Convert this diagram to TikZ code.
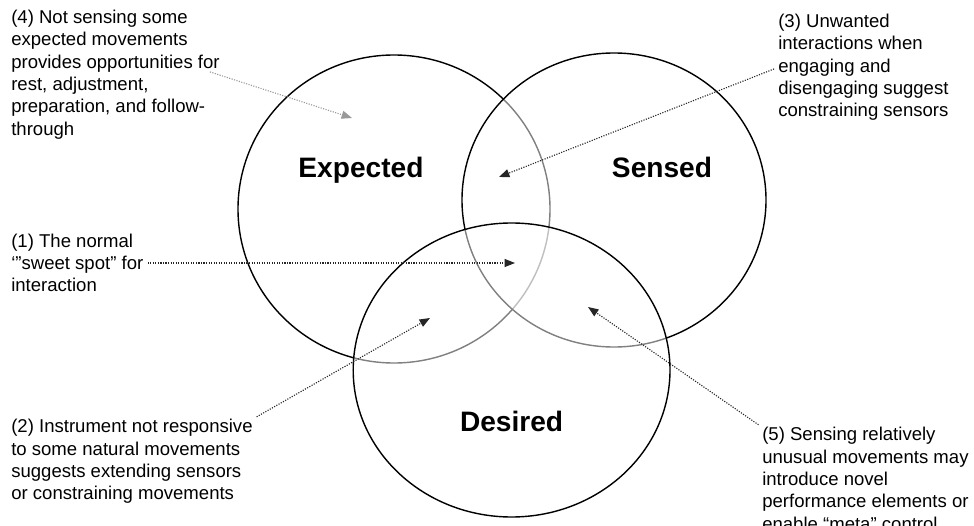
\documentclass[tikz,border=0pt]{standalone}
\usepackage{fontspec}
\setmainfont{Liberation Sans}
\usetikzlibrary{arrows.meta,positioning,shapes.geometric}

\begin{document}
\begin{tikzpicture}[
    venn/.style={ellipse, draw=black, line width=1pt, inner sep=0pt},
    veil/.style={fill=white, fill opacity=0.5},
    heading/.style={font=\fontsize{20}{24}\selectfont\bfseries, anchor=base},
    note/.style={align=left, inner sep=0pt, anchor=west, font=\fontsize{13.2}{15.9}\selectfont},
    pointer/.style={-{Triangle[length=0.26cm,width=0.2cm]}, densely dotted, line width=0.8pt, black!85, shorten <=3pt},
    faint/.style={pointer, black!40}
]
\useasboundingbox (0,0) rectangle (24.35,13.125);

% the three sets
\node[venn, minimum width=7.8cm, minimum height=7.7cm] (expected) at (9.85,7.9) {};
\node[venn, veil, minimum width=7.6cm, minimum height=7.35cm] (sensed) at (15.35,8.125) {};
\node[venn, veil, minimum width=7.92cm, minimum height=7.35cm] (desired) at (12.79,3.875) {};

\node[heading] (expLabel) at (9.025,8.675) {Expected};
\node[heading] (senLabel) at (16.55,8.675) {Sensed};
\node[heading] (desLabel) at (12.79,2.35) {Desired};

% Side notes
\node[note] (note4) at (0.275,11.26) {(4) Not sensing some\\expected movements\\provides opportunities for\\rest, adjustment,\\preparation, and follow-\\through};
\node[note] (note1) at (0.275,6.55) {(1) The normal\\‘”sweet spot” for\\interaction};
\node[note] (note2) at (0.275,1.59) {(2) Instrument not responsive\\to some natural movements\\suggests extending sensors\\or constraining movements};
\node[note] (note3) at (19.45,11.44) {(3) Unwanted\\interactions when\\engaging and\\disengaging suggest\\constraining sensors};
\node[note] (note5) at (19.05,1.15) {(5) Sensing relatively\\unusual movements may\\introduce novel\\performance elements or\\enable “meta” control};

\coordinate (tip1) at (12.875,6.55);
\coordinate (tip2) at (10.75,5.175);
\coordinate (tip3) at (12.475,8.7);
\coordinate (tip4) at (8.8,10.175);
\coordinate (tip5) at (14.7,5.45);

\draw[pointer] (note1.east) -- (tip1);
\draw[pointer] (note2.north east) -- (tip2);
\draw[pointer] (note3.west) -- (tip3);
\draw[faint] ([shift={(-0.35,0.1)}]note4.east) -- (tip4);
\draw[pointer] (note5.north west) -- (tip5);

\end{tikzpicture}
\end{document}
